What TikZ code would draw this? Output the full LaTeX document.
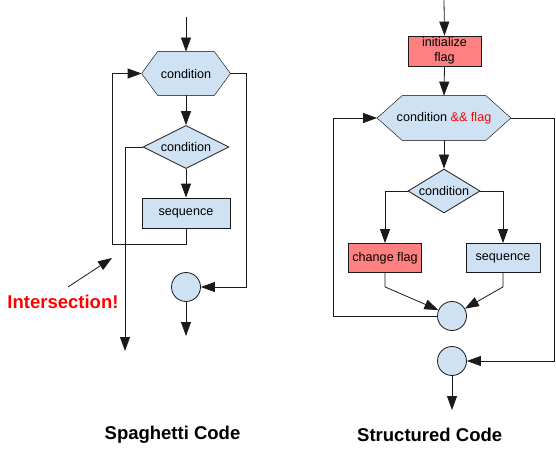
\documentclass[tikz,border=0pt]{standalone}
\usepackage{fontspec}
\setmainfont{Liberation Sans}
\usetikzlibrary{arrows.meta,shapes.geometric,backgrounds}
\definecolor{lblue}{HTML}{CFE2F3}
\definecolor{lred}{HTML}{FF8080}
\definecolor{linec}{HTML}{1A1A1A}
\newcommand\drawhex[2]{%
  \begin{scope}[on background layer]
  \draw[fill=lblue] ([xshift=#2]#1.north west) -- ([xshift=-#2]#1.north east) -- (#1.east)
     -- ([xshift=-#2]#1.south east) -- ([xshift=#2]#1.south west) -- (#1.west) -- cycle;
  \end{scope}}
\begin{document}
\begin{tikzpicture}[x=1pt,y=-1pt,
  font=\fontsize{12.6}{15}\selectfont,
  draw=linec,
  line width=0.8pt,
  >={Triangle[length=14pt,width=10pt]},
  hexn/.style={inner sep=0pt},
  box/.style={draw=linec, fill=lblue, inner sep=0pt},
  diam/.style={diamond, draw=linec, fill=lblue, inner sep=0pt, aspect=2},
  circ/.style={circle, draw=linec, fill=lblue, minimum size=29pt, inner sep=0pt},
  title/.style={font=\fontsize{18.5}{20}\selectfont\bfseries}]
\useasboundingbox (0,0) rectangle (556,449);

% ---------------- Spaghetti code ----------------
\coordinate (top1) at (186,17);
\node[hexn, minimum width=88pt, minimum height=43pt] (h1) at (186,73.5) {condition};
\drawhex{h1}{16pt}
\node[diam, minimum width=86pt, minimum height=43pt] (d1) at (186,147) {condition};
\node[box, minimum width=88pt, minimum height=30pt] (s1) at (186,213) {sequence};
\node[circ] (c1) at (186,287) {};
\coordinate (end1) at (125,351);
\coordinate (out1) at (186,336);
\coordinate (lp1) at (112,244);
\coordinate (rp1) at (246,287);

\draw[->] (top1) -- (h1.north);
\draw[->] (h1.south) -- (d1.north);
\draw[->] (d1.south) -- (s1.north);
\draw[->] (s1.south) |- (lp1) |- (h1.west);
\draw[->] (d1.west) -| (end1);
\draw[->] (h1.east) -| (rp1) -- (c1.east);
\draw[->] (c1.south) -- (out1);

\node[title, text=red] (int) at (63,302) {Intersection!};
\coordinate (ia) at (68,287);
\coordinate (ib) at (112,258);
\draw[->] (ia) -- (ib);

\node[title] (t1) at (172.5,435) {Spaghetti Code};

% ---------------- Structured code ----------------
\coordinate (top2) at (444,0);
\node[box, fill=lred, minimum width=73pt, minimum height=30pt, align=center] (init) at (444.5,51) {initialize\\flag};
\node[hexn, minimum width=133pt, minimum height=44pt] (h2) at (444,118) {condition \textcolor{red}{\&\& flag}};
\drawhex{h2}{25pt}
\node[diam, minimum width=72pt, minimum height=44pt] (d2) at (444,191) {condition};
\node[box, fill=lred, minimum width=73pt, minimum height=29pt] (cf) at (385,258) {change flag};
\node[box, minimum width=74pt, minimum height=29pt] (s2) at (503,258) {sequence};
\node[circ] (c2) at (452,316) {};
\node[circ] (c3) at (452,361) {};
\coordinate (lp2) at (333,118);
\coordinate (rp2) at (554.5,361);
\coordinate (out2) at (452,410);

\draw[->] (top2) -- (init.north);
\draw[->] (init.south) -- (h2.north);
\draw[->] (h2.south) -- (d2.north);
\draw[->] (d2.west) -| (cf.north);
\draw[->] (d2.east) -| (s2.north);
\draw[->] (cf.south) -- ++(0,14) -- (c2);
\draw[->] (s2.south) -- ++(0,14) -- (c2);
\draw[->] (c2.west) -| (lp2) -- (h2.west);
\draw[->] (h2.east) -| (rp2) -- (c3.east);
\draw[->] (c3.south) -- (out2);

\node[title] (t2) at (429.7,435) {Structured Code};
\end{tikzpicture}
\end{document}
